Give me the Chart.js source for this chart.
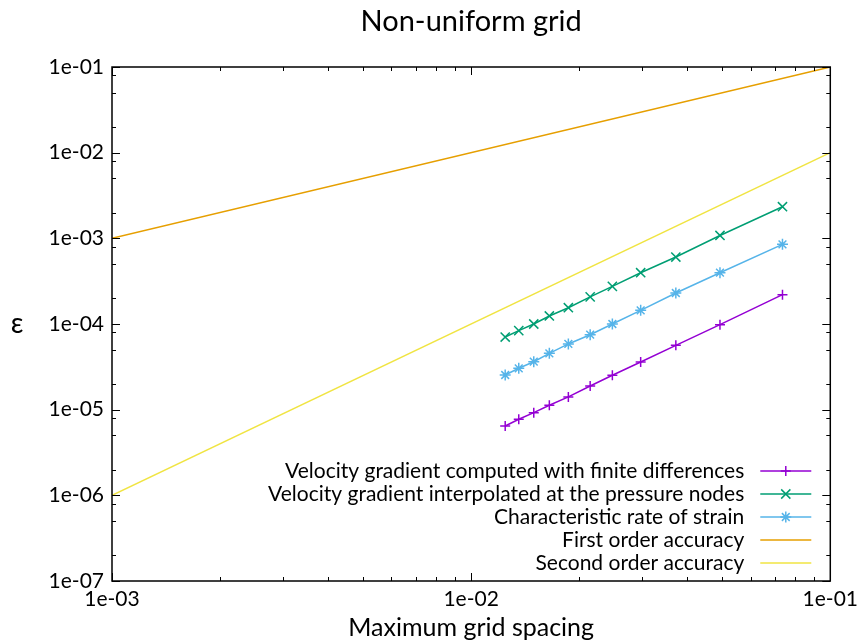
<!DOCTYPE html>
<html>
<head>
<meta charset="utf-8">
<title>Non-uniform grid</title>
<script src="https://cdn.jsdelivr.net/npm/chart.js@4.4.1/dist/chart.umd.min.js"></script>
<style>
  html, body { margin: 0; padding: 0; background: #fff; }
  canvas { display: block; }
</style>
</head>
<body>
<canvas id="errChart" width="864" height="644"></canvas>
<script>
// convergence data: error against maximum grid spacing
const gridSpacing = [0.01244, 0.01357, 0.01494, 0.01651, 0.01865, 0.02145, 0.02473, 0.02965, 0.03715, 0.0493, 0.0736];
const errFiniteDiff = [6.45e-6, 7.72e-6, 9.22e-6, 1.125e-5, 1.41e-5, 1.89e-5, 2.52e-5, 3.6e-5, 5.64e-5, 9.82e-5, 2.2e-4];
const errPressureNodes = [7.05e-5, 8.36e-5, 1.0e-4, 1.24e-4, 1.55e-4, 2.07e-4, 2.75e-4, 3.97e-4, 6.05e-4, 1.08e-3, 2.34e-3];
const errStrainRate = [2.54e-5, 3.04e-5, 3.63e-5, 4.55e-5, 5.85e-5, 7.5e-5, 1.0e-4, 1.445e-4, 2.3e-4, 3.97e-4, 8.51e-4];

// reference slopes
const refSpacing = [1e-3, 1e-1];
const firstOrder = [1e-3, 1e-1];
const secondOrder = [1e-6, 1e-2];

const seriesLabels = [
    'Velocity gradient computed with finite differences',
    'Velocity gradient interpolated at the pressure nodes',
    'Characteristic rate of strain',
    'First order accuracy',
    'Second order accuracy'
];

const xTicks = [1e-3, 1e-2, 1e-1];
const yTicks = [1e-7, 1e-6, 1e-5, 1e-4, 1e-3, 1e-2, 1e-1];
const xMinor = [2, 3, 4, 5, 6, 7, 8, 9];
const yMinor = [2, 5, 8];

const FONT = 'Lato, "DejaVu Sans", sans-serif';

function pairs(xs, ys) {
    return xs.map((x, i) => ({ x: x, y: ys[i] }));
}

function expLabel(v) {
    const e = Math.round(Math.log10(v));
    return '1e' + (e < 0 ? '-' : '+') + String(Math.abs(e)).padStart(2, '0');
}

// border and inward ticks on all four sides
const frameTicks = {
    id: 'frameTicks',
    afterDraw(chart) {
        const { ctx, chartArea: a, scales } = chart;
        const major = 8, minor = 4;
        ctx.save();
        ctx.strokeStyle = '#000';
        ctx.lineWidth = 1;
        ctx.beginPath();
        const tickX = (v, len) => {
            const px = Math.round(scales.x.getPixelForValue(v)) + 0.5;
            ctx.moveTo(px, a.bottom); ctx.lineTo(px, a.bottom - len);
            ctx.moveTo(px, a.top); ctx.lineTo(px, a.top + len);
        };
        const tickY = (v, len) => {
            const py = Math.round(scales.y.getPixelForValue(v)) + 0.5;
            ctx.moveTo(a.left, py); ctx.lineTo(a.left + len, py);
            ctx.moveTo(a.right, py); ctx.lineTo(a.right - len, py);
        };
        xTicks.forEach((t, i) => {
            tickX(t, major);
            if (i < xTicks.length - 1) xMinor.forEach(m => tickX(t * m, minor));
        });
        yTicks.forEach((t, i) => {
            tickY(t, major);
            if (i < yTicks.length - 1) yMinor.forEach(m => tickY(t * m, minor));
        });
        ctx.stroke();
        ctx.lineWidth = 1.5;
        ctx.strokeRect(a.left, a.top, a.right - a.left, a.bottom - a.top);
        ctx.restore();
    }
};

// key in the lower right corner, text right-aligned before the sample
const keyBox = {
    id: 'keyBox',
    afterDraw(chart) {
        const { ctx, chartArea: a } = chart;
        const textRight = a.right - 86;
        const lineL = a.right - 70, lineR = a.right - 19;
        let y = a.bottom - 110;
        ctx.save();
        ctx.font = '21px ' + FONT;
        ctx.textAlign = 'right';
        ctx.textBaseline = 'middle';
        chart.data.datasets.forEach(ds => {
            ctx.fillStyle = '#000';
            ctx.fillText(ds.label, textRight, y);
            ctx.strokeStyle = ds.borderColor;
            ctx.lineWidth = ds.borderWidth;
            ctx.beginPath();
            ctx.moveTo(lineL, y); ctx.lineTo(lineR, y);
            ctx.stroke();
            if (ds.pointRadius > 0) {
                Chart.helpers.drawPoint(ctx, {
                    pointStyle: ds.pointStyle,
                    radius: ds.pointRadius,
                    rotation: 0,
                    borderWidth: ds.pointBorderWidth
                }, (lineL + lineR) / 2, y);
            }
            y += 23;
        });
        ctx.restore();
    }
};

// title centred over the plot area, upright epsilon as y-axis label
const plotLabels = {
    id: 'plotLabels',
    afterDraw(chart) {
        const { ctx, chartArea: a } = chart;
        ctx.save();
        ctx.fillStyle = '#000';
        ctx.textAlign = 'center';
        ctx.textBaseline = 'middle';
        ctx.font = '29px ' + FONT;
        ctx.fillText('Non-uniform grid', (a.left + a.right) / 2, 22);
        ctx.font = '28px ' + FONT;
        ctx.fillText('ε', 17, (a.top + a.bottom) / 2);
        ctx.restore();
    }
};

function series(label, ys, color, style, radius, xs) {
    return {
        label: label,
        data: pairs(xs || gridSpacing, ys),
        borderColor: color,
        backgroundColor: color,
        borderWidth: 1.5,
        pointStyle: style || false,
        pointRadius: style ? radius : 0,
        pointBorderWidth: 1.5,
        pointBorderColor: color,
        pointHoverRadius: 0
    };
}

const ctx = document.getElementById('errChart').getContext('2d');
const errChart = new Chart(ctx, {
    type: 'line',
    data: {
        datasets: [
            series(seriesLabels[0], errFiniteDiff, '#9400d3', 'cross', 5),
            series(seriesLabels[1], errPressureNodes, '#009e73', 'crossRot', 6.5),
            series(seriesLabels[2], errStrainRate, '#56b4e9', 'star', 5.5),
            series(seriesLabels[3], firstOrder, '#e69f00', null, 0, refSpacing),
            series(seriesLabels[4], secondOrder, '#f0e442', null, 0, refSpacing)
        ]
    },
    options: {
        responsive: false,
        animation: false,
        devicePixelRatio: 1,
        layout: { padding: { left: 0, right: 31, top: 67, bottom: 0 } },
        plugins: {
            legend: { display: false },
            tooltip: { enabled: false },
            title: { display: false }
        },
        scales: {
            x: {
                type: 'logarithmic',
                min: 1e-3,
                max: 1e-1,
                afterBuildTicks: s => { s.ticks = xTicks.map(v => ({ value: v })); },
                afterFit: s => { s.height = 63; },
                grid: { display: false, drawTicks: false },
                border: { display: false },
                ticks: {
                    color: '#000',
                    padding: 6,
                    maxRotation: 0,
                    font: { family: FONT, size: 21 },
                    callback: v => expLabel(v)
                },
                title: {
                    display: true,
                    text: 'Maximum grid spacing',
                    color: '#000',
                    font: { family: FONT, size: 25 },
                    padding: { top: 0, bottom: 1 }
                }
            },
            y: {
                type: 'logarithmic',
                min: 1e-7,
                max: 1e-1,
                afterBuildTicks: s => { s.ticks = yTicks.map(v => ({ value: v })); },
                afterFit: s => { s.width = 112; },
                grid: { display: false, drawTicks: false },
                border: { display: false },
                ticks: {
                    color: '#000',
                    padding: 8,
                    font: { family: FONT, size: 21 },
                    callback: v => expLabel(v)
                }
            }
        }
    },
    plugins: [frameTicks, keyBox, plotLabels]
});
</script>
</body>
</html>
